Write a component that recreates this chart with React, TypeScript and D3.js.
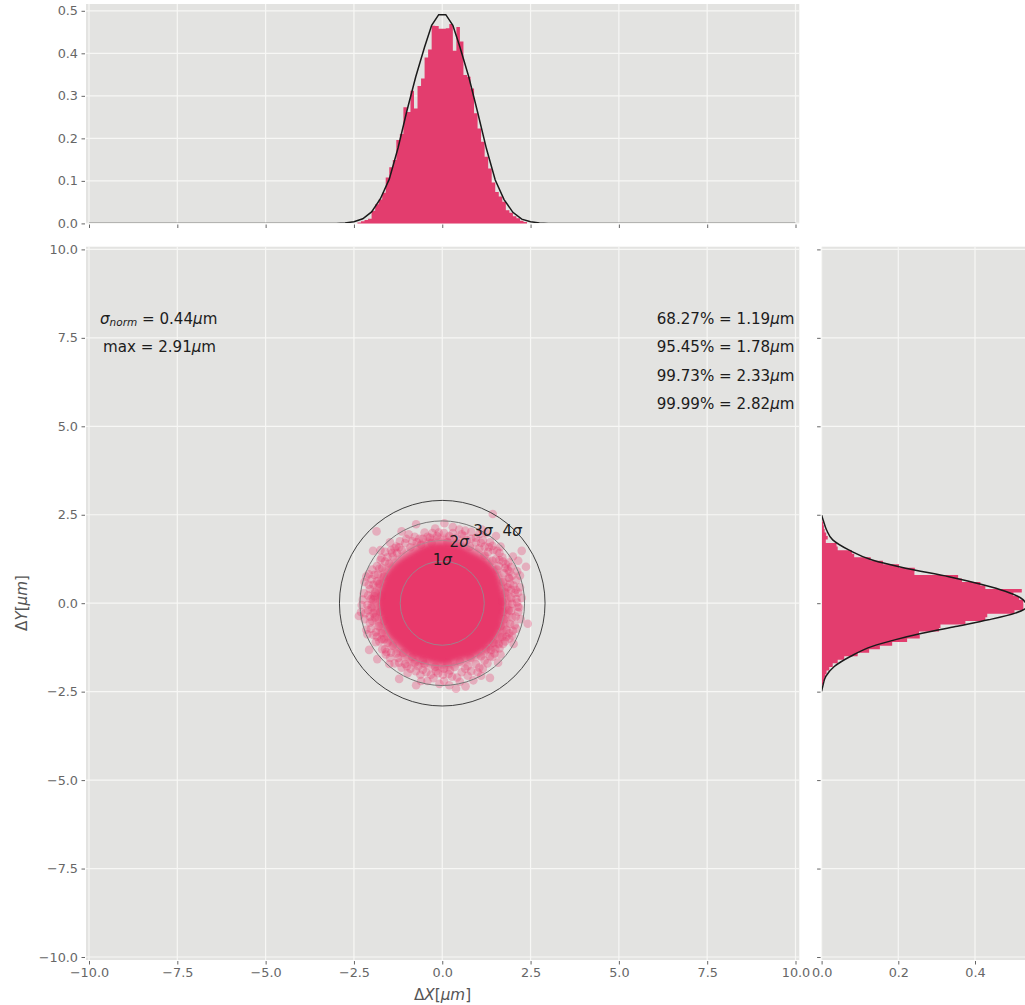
import { useEffect, useRef } from 'react'
import * as d3 from 'd3'

const xTicks = [-10, -7.5, -5, -2.5, 0, 2.5, 5, 7.5, 10]
const yTicks = [-10, -7.5, -5, -2.5, 0, 2.5, 5, 7.5, 10]
const topTicks = [0, 0.1, 0.2, 0.3, 0.4, 0.5]
const sideTicks = [0, 0.2, 0.4]

// histogram of dX, bins are 0.1um wide starting at -2.4
const histXStart = -2.4
const binWidth = 0.1
const histX = [
  0.002, 0.005, 0.008, 0.011, 0.03, 0.045, 0.056, 0.072, 0.108, 0.132, 0.149, 0.196,
  0.21, 0.273, 0.262, 0.312, 0.27, 0.323, 0.341, 0.39, 0.409, 0.465, 0.464, 0.458,
  0.458, 0.459, 0.469, 0.406, 0.462, 0.428, 0.349, 0.345, 0.317, 0.259, 0.223, 0.192,
  0.157, 0.129, 0.096, 0.074, 0.063, 0.051, 0.031, 0.025, 0.017, 0.012, 0.006, 0.003
]

// histogram of dY, bins are 0.1um wide starting at -2.4
const histYStart = -2.4
const histY = [
  0.002, 0.004, 0.007, 0.01, 0.013, 0.02, 0.029, 0.042, 0.059, 0.094, 0.124, 0.152,
  0.184, 0.223, 0.256, 0.254, 0.306, 0.31, 0.375, 0.427, 0.432, 0.503, 0.526, 0.526,
  0.526, 0.515, 0.5, 0.522, 0.427, 0.414, 0.366, 0.356, 0.242, 0.243, 0.202, 0.16,
  0.128, 0.085, 0.079, 0.042, 0.039, 0.011, 0.016, 0.012, 0.008, 0.006, 0.004, 0.002
]

// fitted curves
const curveXPos = [-10, -3, -2.75, -2.5, -2.25, -2, -1.75, -1.5, -1.25, -1, -0.75, -0.5, -0.3, -0.1, 0.1, 0.3, 0.5, 0.75, 1, 1.25, 1.5, 1.75, 2, 2.25, 2.5, 2.75, 3, 10]
const curveXVal = [0, 0, 0.001, 0.004, 0.011, 0.027, 0.058, 0.104, 0.178, 0.265, 0.345, 0.415, 0.466, 0.491, 0.491, 0.466, 0.415, 0.345, 0.262, 0.176, 0.102, 0.056, 0.026, 0.01, 0.004, 0.001, 0, 0]
const curveYPos = [2.49, 2.35, 2.07, 1.79, 1.5, 1.22, 0.99, 0.75, 0.53, 0.34, 0.1, -0.1, -0.28, -0.47, -0.66, -0.85, -1.03, -1.22, -1.5, -1.79, -2.07, -2.35, -2.49]
const curveYVal = [0, 0.004, 0.013, 0.029, 0.072, 0.132, 0.219, 0.332, 0.418, 0.479, 0.525, 0.535, 0.505, 0.435, 0.349, 0.262, 0.193, 0.132, 0.076, 0.033, 0.011, 0.003, 0]

// the centre of the cloud is solid, so it is outlined instead of plotted point by point
// angles run clockwise from straight up, one radius every 15 degrees
const coreRadii = [1.7, 1.7, 1.66, 1.72, 1.76, 1.72, 1.78, 1.76, 1.8, 1.76, 1.72, 1.66, 1.72, 1.68, 1.72, 1.7, 1.76, 1.76, 1.82, 1.78, 1.76, 1.7, 1.66, 1.7]
const hazeRadii = [1.92, 1.84, 1.82, 1.86, 1.84, 1.92, 1.98, 1.96, 2.04, 1.94, 1.86, 1.82, 1.92, 1.86, 1.96, 1.92, 1.98, 2.0, 2.08, 1.98, 1.94, 1.84, 1.82, 1.86]

const scatterPoints = [
  [1.43, 2.52], [0.06, 2.26], [0.65, 2.05], [0.82, 2.02], [0.55, 1.95], [1.05, 1.95], [1.25, 1.98], [1.52, 1.9],
  [1.35, 1.72], [1.7, 1.3], [1.87, 1.15], [2.15, 1.2], [2.0, 1.32], [2.25, 1.48], [2.37, 1.03], [1.95, 1.02],
  [2.1, 0.65], [2.2, 0.45], [2.05, 0.28], [2.25, 0.15], [2.12, 0.9], [1.8, 1.1], [1.62, 1.42], [1.45, 1.5],
  [1.2, 1.6], [0.95, 1.72], [0.7, 1.78], [0.4, 1.85], [0.2, 1.9], [1.75, 0.85], [1.9, 0.7], [1.85, 0.45],
  [1.95, 0.15], [1.52, 1.25], [1.3, 1.45], [1.05, 1.55], [0.78, 1.6], [0.5, 1.68], [0.15, 1.72], [1.6, 1.05],
  [1.72, 0.6], [1.78, 0.3], [1.7, 0.05], [1.55, 0.95], [1.42, 1.2], [1.2, 1.35], [2.02, 0.5], [1.9, 0.9],
  [-0.2, 2.11], [-0.74, 2.23], [-1.15, 2.03], [-1.86, 2.03], [-0.5, 2.0], [-0.95, 1.95], [-0.35, 1.85], [-0.65, 1.82],
  [-1.2, 1.75], [-1.45, 1.5], [-1.05, 1.7], [-0.85, 1.75], [-0.15, 1.9], [-1.96, 1.48], [-1.62, 1.45], [-1.3, 1.6],
  [-1.75, 1.22], [-2.15, 0.75], [-2.2, 0.6], [-1.98, 0.95], [-1.85, 1.05], [-1.55, 1.3], [-2.05, 0.4], [-2.25, 0.1],
  [-2.0, 0.68], [-1.9, 0.3], [-1.82, 0.82], [-1.7, 1.0], [-1.4, 1.32], [-1.15, 1.5], [-0.9, 1.58], [-0.6, 1.65],
  [-0.3, 1.7], [-1.78, 0.55], [-1.95, 0.1], [-1.72, 0.2], [-1.65, 0.75], [-2.1, 0.22], [-1.28, 1.42], [-1.5, 1.12],
  [-2.36, -0.36], [-2.28, -0.05], [-2.3, -0.25], [-2.2, -0.45], [-2.15, -0.75], [-2.05, -0.55], [-2.1, -0.2], [-1.95, -0.9],
  [-2.07, -1.32], [-1.84, -1.58], [-1.88, -1.1], [-1.7, -1.3], [-1.6, -1.45], [-1.55, -1.12], [-1.72, -0.85], [-1.9, -0.4],
  [-1.8, -0.65], [-2.0, -0.12], [-1.75, -0.25], [-1.65, -0.5], [-1.45, -1.4], [-1.58, -1.38], [-1.25, -1.55], [-1.05, -1.72],
  [-1.22, -2.14], [-0.74, -2.32], [-0.42, -2.2], [-0.62, -2.02], [-0.9, -1.85], [-1.15, -1.82], [-0.45, -1.95], [-0.25, -2.12],
  [-1.35, -1.7], [-0.78, -1.68], [-0.5, -1.72], [-0.2, -1.8], [-1.4, -1.2], [-1.1, -1.4], [-0.85, -1.52], [-0.55, -1.62],
  [0.39, -2.42], [0.66, -2.35], [0.05, -2.2], [0.2, -2.32], [0.18, -2.0], [0.42, -2.1], [0.72, -2.05], [1.35, -2.11],
  [1.0, -1.95], [1.28, -1.7], [1.58, -1.68], [1.35, -1.5], [0.95, -1.72], [0.65, -1.85], [0.35, -1.8], [0.05, -1.85],
  [0.15, -1.68], [0.5, -1.65], [0.8, -1.55], [1.1, -1.5], [1.5, -1.3], [1.72, -1.15], [1.9, -1.0], [2.0, -0.78],
  [2.42, -0.58], [2.15, -0.25], [2.22, -0.45], [1.98, -0.4], [2.05, -0.62], [1.82, -0.75], [1.7, -0.95], [1.45, -1.12],
  [1.25, -1.3], [1.88, -0.2], [1.75, -0.45], [1.65, -0.65], [2.02, -1.15], [1.6, -1.15], [1.42, -1.52], [1.72, -0.25],
  [2.12, 0.02], [-2.12, -0.88], [-1.65, -1.02], [-0.98, -1.98], [0.88, -2.18], [1.15, -1.85], [-1.48, 1.72], [1.65, 1.6],
  // second pass over the ragged rim of the cloud
  [-0.1, 2.0], [0.3, 1.98], [0.48, 2.08], [0.95, 1.85], [1.15, 1.78], [1.42, 1.62], [1.55, 1.48], [1.72, 1.18],
  [1.85, 0.95], [1.98, 0.78], [2.08, 0.38], [2.1, 0.12], [2.14, -0.1], [2.08, -0.38], [2.1, -0.72], [1.92, -0.58],
  [1.9, -0.85], [1.78, -1.08], [1.62, -1.28], [1.48, -1.42], [1.2, -1.62], [1.05, -1.82], [0.82, -1.92], [0.55, -1.95],
  [0.28, -2.08], [0.02, -2.02], [-0.12, -1.98], [-0.32, -2.02], [-0.55, -1.88], [-0.75, -1.92], [-1.0, -1.78], [-1.22, -1.68],
  [-1.48, -1.55], [-1.62, -1.3], [-1.78, -1.08], [-1.88, -0.82], [-2.02, -0.72], [-2.05, -0.38], [-2.12, -0.05], [-2.02, 0.12],
  [-2.08, 0.52], [-1.95, 0.52], [-1.92, 0.8], [-1.78, 0.98], [-1.62, 1.18], [-1.42, 1.42], [-1.22, 1.58], [-1.02, 1.82],
  [-0.78, 1.88], [-0.55, 1.82], [-0.28, 1.98], [0.05, 1.98], [0.82, 1.82], [1.32, 1.58], [1.62, 1.22], [1.88, 0.72],
  [1.95, 0.38], [1.98, -0.02], [1.95, -0.22], [1.82, -0.95], [1.38, -1.32], [0.72, -1.78], [0.22, -1.9], [-0.18, -1.92],
  [-0.68, -1.78], [-1.3, -1.42], [-1.72, -1.02], [-1.98, -0.5], [-1.95, -0.28], [-1.92, 0.2], [-1.85, 0.62], [-1.35, 1.55],
  [-0.72, 1.72], [-0.42, 1.88], [0.62, 1.9], [1.1, 1.7], [1.78, 1.0], [1.92, 0.55], [-1.85, -0.95], [-2.18, -0.28],
  [-2.22, 0.28], [-2.08, 0.82], [-1.72, 1.28], [2.18, -0.12], [2.15, 0.3], [1.98, -0.92], [0.5, -2.22], [-0.6, -2.2],
  [-1.5, -1.72], [-1.75, 1.5], [1.12, 2.08], [0.3, 2.15], [2.2, 0.78], [-0.08, -2.28], [1.1, -2.05], [1.65, -1.45]
]

const ringRadii = [1.19, 1.78, 2.33, 2.91]
const ringColors = ['#a0808c', '#b8808f', '#777777', '#3f3f3f']
const ringLabels = ['1', '2', '3', '4']
const ringLabelX = [0, 0.48, 1.15, 1.98]
const ringLabelY = [1.07, 1.59, 1.9, 1.9]

const percentLabels = ['68.27% = 1.19', '95.45% = 1.78', '99.73% = 2.33', '99.99% = 2.82']

const FONT = '"DejaVu Sans", sans-serif'
const PANEL = '#e3e3e1'
const PINK = '#e33d6e'

export default function App() {
  const svgRef = useRef<SVGSVGElement>(null)

  useEffect(() => {
    const svg = d3.select(svgRef.current)
    svg.selectAll('*').remove()
    svg.style('font-family', FONT)

    const x = d3.scaleLinear([-10, 10], [89, 795.5])
    const y = d3.scaleLinear([-10, 10], [957, 249.4])
    const yTop = d3.scaleLinear([0, 0.5], [223.4, 10.8])
    const xSide = d3.scaleLinear([0, 0.4], [821.6, 975])

    // panels
    const panels = [
      { id: 'top', x: 86, y: 4, w: 713.3, h: 219.1 },
      { id: 'main', x: 86, y: 246.7, w: 713.3, h: 713.3 },
      { id: 'side', x: 821.9, y: 246.7, w: 210, h: 713.3 }
    ]
    const defs = svg.append('defs')
    panels.forEach(p => {
      svg.append('rect').attr('x', p.x).attr('y', p.y).attr('width', p.w).attr('height', p.h).attr('fill', PANEL)
      defs.append('clipPath').attr('id', 'clip-' + p.id)
        .append('rect').attr('x', p.x).attr('y', p.y).attr('width', p.w).attr('height', p.h)
    })
    // softens the edge of the solid part of the cloud
    defs.append('filter').attr('id', 'soft')
      .attr('x', '-20%').attr('y', '-20%').attr('width', '140%').attr('height', '140%')
      .append('feGaussianBlur').attr('stdDeviation', 2)

    // grid lines
    const grid = svg.append('g').attr('stroke', '#f7f7f5').attr('stroke-width', 1.2)
    xTicks.forEach(t => {
      grid.append('line').attr('x1', x(t)).attr('x2', x(t)).attr('y1', 4).attr('y2', 223.4)
      grid.append('line').attr('x1', x(t)).attr('x2', x(t)).attr('y1', 246.7).attr('y2', 960)
    })
    topTicks.forEach(t => {
      grid.append('line').attr('x1', 86).attr('x2', 799.3).attr('y1', yTop(t)).attr('y2', yTop(t))
    })
    yTicks.forEach(t => {
      grid.append('line').attr('x1', 86).attr('x2', 799.3).attr('y1', y(t)).attr('y2', y(t))
      grid.append('line').attr('x1', 821.9).attr('x2', 1025).attr('y1', y(t)).attr('y2', y(t))
    })
    sideTicks.forEach(t => {
      grid.append('line').attr('x1', xSide(t)).attr('x2', xSide(t)).attr('y1', 246.7).attr('y2', 960)
    })

    // axes
    const styleAxis = (g: any) => {
      g.select('.domain').remove()
      g.selectAll('.tick line').attr('stroke', '#666')
      g.selectAll('.tick text').attr('fill', '#666').style('font-size', '12.8px').style('font-family', FONT)
    }
    const fmt = d3.format('.1f')
    svg.append('g').attr('transform', 'translate(0,224.5)')
      .call(d3.axisBottom(x).tickValues(xTicks).tickSize(3.5).tickFormat(() => ''))
      .call(styleAxis)
    svg.append('g').attr('transform', 'translate(85,0)')
      .call(d3.axisLeft(yTop).tickValues(topTicks).tickSize(3.5).tickPadding(3.5).tickFormat(d => fmt(+d)))
      .call(styleAxis)
    svg.append('g').attr('transform', 'translate(0,961)')
      .call(d3.axisBottom(x).tickValues(xTicks).tickSize(3.5).tickPadding(3.5).tickFormat(d => fmt(+d)))
      .call(styleAxis)
    svg.append('g').attr('transform', 'translate(85,0)')
      .call(d3.axisLeft(y).tickValues(yTicks).tickSize(3.5).tickPadding(3.5).tickFormat(d => fmt(+d)))
      .call(styleAxis)
    svg.append('g').attr('transform', 'translate(820.6,0)')
      .call(d3.axisLeft(y).tickValues(yTicks).tickSize(3.5).tickFormat(() => ''))
      .call(styleAxis)
    svg.append('g').attr('transform', 'translate(0,961)')
      .call(d3.axisBottom(xSide).tickValues(sideTicks).tickSize(3.5).tickPadding(3.5).tickFormat(d => fmt(+d)))
      .call(styleAxis)

    // top histogram, one step outline so the bars have no seams
    const topArea = d3.area<number>()
      .x((_, i) => x(histXStart + i * binWidth))
      .y0(yTop(0))
      .y1(d => yTop(d))
      .curve(d3.curveStepAfter)
    svg.append('path').attr('d', topArea([...histX, 0])).attr('fill', PINK)

    // side histogram, stepBefore because the bins run along y
    const sideArea = d3.area<number>()
      .y((_, i) => y(histYStart + i * binWidth))
      .x0(xSide(0))
      .x1(d => xSide(d))
      .curve(d3.curveStepBefore)
    svg.append('path').attr('d', sideArea([...histY, 0])).attr('fill', PINK)
      .attr('clip-path', 'url(#clip-side)')

    // curves
    const topLine = d3.line<number>().x((_, i) => x(curveXPos[i])).y(d => yTop(d))
    svg.append('path').attr('d', topLine(curveXVal)).attr('fill', 'none')
      .attr('stroke', '#1a1a1a').attr('stroke-width', 1.5).attr('clip-path', 'url(#clip-top)')
    const sideLine = d3.line<number>().x(d => xSide(d)).y((_, i) => y(curveYPos[i])).curve(d3.curveMonotoneY)
    svg.append('path').attr('d', sideLine(curveYVal)).attr('fill', 'none')
      .attr('stroke', '#1a1a1a').attr('stroke-width', 1.5).attr('clip-path', 'url(#clip-side)')

    // scatter cloud
    const blob = (radii: number[]) =>
      d3.lineRadial<number>()
        .angle((_, i) => (i / radii.length) * 2 * Math.PI)
        .radius(d => x(d) - x(0))
        .curve(d3.curveCardinalClosed)(radii)
    const cloud = svg.append('g').attr('transform', `translate(${x(0)},${y(0)})`)
    cloud.append('path').attr('d', blob(hazeRadii)).attr('fill', '#e8376b').attr('opacity', 0.6).attr('filter', 'url(#soft)')
    cloud.append('path').attr('d', blob(coreRadii)).attr('fill', '#e8376b').attr('filter', 'url(#soft)')
    svg.append('g').selectAll('circle').data(scatterPoints).join('circle')
      .attr('cx', d => x(d[0]))
      .attr('cy', d => y(d[1]))
      .attr('r', 4.3)
      .attr('fill', '#e8346a')
      .attr('opacity', 0.3)

    // sigma rings
    svg.append('g').selectAll('circle').data(ringRadii).join('circle')
      .attr('cx', x(0))
      .attr('cy', y(0))
      .attr('r', d => x(d) - x(0))
      .attr('fill', 'none')
      .attr('stroke', (_, i) => ringColors[i])
      .attr('stroke-width', 1)

    const ink = '#1c1c1c'
    const fontSize = 15.1
    ringLabels.forEach((n, i) => {
      const t = svg.append('text').attr('x', x(ringLabelX[i])).attr('y', y(ringLabelY[i]))
        .attr('text-anchor', 'middle').attr('fill', ink).style('font-size', fontSize + 'px')
      t.append('tspan').text(n)
      t.append('tspan').text('σ').attr('font-style', 'italic')
    })

    // left annotations
    const sigmaText = svg.append('text').attr('x', 100).attr('y', 324).attr('fill', ink).style('font-size', fontSize + 'px')
    sigmaText.append('tspan').text('σ').attr('font-style', 'italic')
    sigmaText.append('tspan').text('norm').attr('font-style', 'italic').attr('dy', 2.2).style('font-size', '10.5px')
    sigmaText.append('tspan').text(' = 0.44').attr('dy', -2.2)
    sigmaText.append('tspan').text('μ').attr('font-style', 'italic')
    sigmaText.append('tspan').text('m')
    const maxText = svg.append('text').attr('x', 103).attr('y', 352).attr('fill', ink).style('font-size', fontSize + 'px')
    maxText.append('tspan').text('max = 2.91')
    maxText.append('tspan').text('μ').attr('font-style', 'italic')
    maxText.append('tspan').text('m')

    // right annotations
    percentLabels.forEach((label, i) => {
      const t = svg.append('text').attr('x', 794.5).attr('y', 324 + i * 28.4).attr('text-anchor', 'end')
        .attr('fill', ink).style('font-size', fontSize + 'px')
      t.append('tspan').text(label)
      t.append('tspan').text('μ').attr('font-style', 'italic')
      t.append('tspan').text('m')
    })

    // axis titles
    const axisTitle = (t: any, name: string) => {
      t.attr('text-anchor', 'middle').attr('fill', '#555').style('font-size', '15.2px')
      t.append('tspan').text('Δ')
      t.append('tspan').text(name).attr('font-style', 'italic')
      t.append('tspan').text('[')
      t.append('tspan').text('μm').attr('font-style', 'italic')
      t.append('tspan').text(']')
    }
    axisTitle(svg.append('text').attr('x', 442.5).attr('y', 1000), 'X')
    axisTitle(svg.append('text').attr('transform', 'translate(27,603) rotate(-90)'), 'Y')
  }, [])

  return (
    <svg
      ref={svgRef}
      width={1025}
      height={1005}
      style={{ position: 'absolute', left: 0, top: 0, background: '#fff', display: 'block' }}
    />
  )
}
